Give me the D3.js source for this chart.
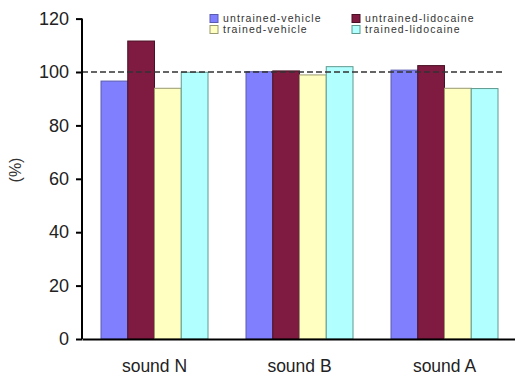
<!DOCTYPE html>
<html><head><meta charset="utf-8">
<script src="https://cdn.jsdelivr.net/npm/d3@7"></script>
<style>body{margin:0;background:#fff;}svg{display:block;font-family:"Liberation Sans",Arial,sans-serif;}</style>
</head><body><svg id="c" width="515" height="377"></svg>
<script>
const categories = ["sound N", "sound B", "sound A"];
const seriesNames = ["untrained-vehicle", "untrained-lidocaine", "trained-vehicle", "trained-lidocaine"];
const untrainedVehicle = [96.6, 100.1, 100.7];
const untrainedLidocaine = [111.6, 100.4, 102.4];
const trainedVehicle = [93.9, 98.9, 93.9];
const trainedLidocaine = [99.9, 102.0, 93.8];
const yTicks = [0, 20, 40, 60, 80, 100, 120];
const seriesColors = ["#8080ff", "#7f1a40", "#ffffc2", "#b2ffff"];
const seriesStrokes = ["#5a5ab0", "#4a1025", "#9a9a70", "#5f9a90"];

const series = [untrainedVehicle, untrainedLidocaine, trainedVehicle, trainedLidocaine];
const svg = d3.select("#c");
const x0 = d3.scaleBand().domain(categories).range([82, 517]).paddingInner(38/145).paddingOuter(19/145);
const x1 = d3.scaleBand().domain(seriesNames).range([0, x0.bandwidth()]);
const y = d3.scaleLinear().domain([0, 120]).range([339, 18.6]);

// bars
categories.forEach((c, ci) => {
  svg.append("g").selectAll("rect").data(seriesNames).join("rect")
    .attr("x", s => x0(c) + x1(s))
    .attr("y", (s, si) => y(series[si][ci]))
    .attr("width", x1.bandwidth())
    .attr("height", (s, si) => y(0) - y(series[si][ci]))
    .attr("fill", (s, si) => seriesColors[si])
    .attr("stroke", (s, si) => seriesStrokes[si])
    .attr("stroke-width", 1);
});

// reference dashed line at 100
svg.append("line").attr("x1", 82).attr("x2", 503).attr("y1", y(100)).attr("y2", y(100))
  .attr("stroke", "#333").attr("stroke-width", 1.5).attr("stroke-dasharray", "6,3");

// y axis
const yAxis = svg.append("g").attr("transform", "translate(82,0)")
  .call(d3.axisLeft(y).tickValues(yTicks).tickSize(6).tickPadding(7));
yAxis.select(".domain").attr("stroke", "#000").attr("stroke-width", 2).attr("d", `M0,${y(0)}V${y(120)}`);
yAxis.selectAll(".tick line").attr("stroke", "#000").attr("stroke-width", 2);
yAxis.selectAll(".tick text").attr("font-size", 18).attr("fill", "#222").attr("font-family", "Liberation Sans, Arial, sans-serif");

// x axis
const xAxis = svg.append("g").attr("transform", `translate(0,${y(0)})`)
  .call(d3.axisBottom(x0).tickSize(0).tickPadding(21));
xAxis.select(".domain").attr("stroke", "#000").attr("stroke-width", 2);
xAxis.selectAll(".tick text").attr("font-size", 17.5).attr("fill", "#222").attr("font-family", "Liberation Sans, Arial, sans-serif");

// y label
svg.append("text").attr("transform", "translate(21,170) rotate(-90)")
  .attr("text-anchor", "middle").attr("font-size", 16).attr("fill", "#333").text("(%)");

// legend
const legendPos = [[210, 18.5], [352, 18.5], [210, 29.5], [352, 29.5]];
const lg = svg.append("g").selectAll("g").data(seriesNames).join("g")
  .attr("transform", (d, i) => `translate(${legendPos[i][0]},${legendPos[i][1]})`);
lg.append("rect").attr("x", 0).attr("y", -4).attr("width", 8).attr("height", 8)
  .attr("fill", (d, i) => seriesColors[i]).attr("stroke", (d, i) => seriesStrokes[i]);
lg.append("text").attr("x", 13).attr("y", 3.5).attr("font-size", 10.5).attr("letter-spacing", 1.1)
  .attr("fill", "#333").text(d => d);
</script></body></html>
